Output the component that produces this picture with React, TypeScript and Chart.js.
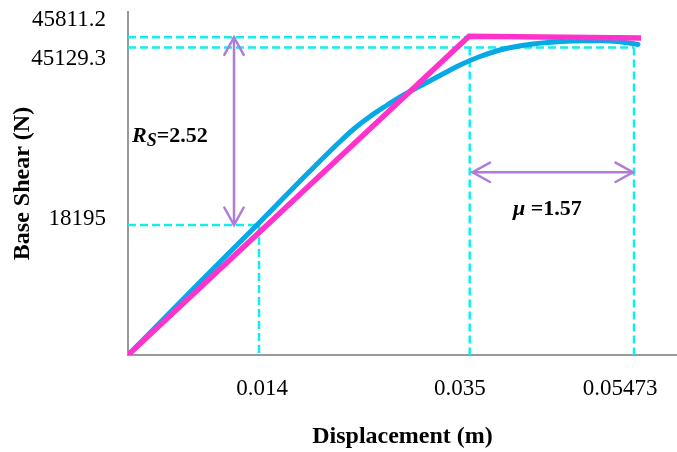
import React, { useEffect, useRef } from "react";
import { Chart, registerables } from "chart.js";

Chart.register(...registerables);

const FONT = "'Liberation Serif', 'Times New Roman', serif";

// Pushover (capacity) curve: displacement (m) vs base shear (N)
const pushoverDisp = [0, 0.00761, 0.01363, 0.01923, 0.0224, 0.02398, 0.02557, 0.02715, 0.02874, 0.03085, 0.03296, 0.03508, 0.03719, 0.0393, 0.04279, 0.04638, 0.04987, 0.05198, 0.05388];
const pushoverShear = [0, 10216, 18192, 25749, 29877, 31766, 33376, 34775, 36105, 37644, 39113, 40583, 41772, 42682, 43521, 43899, 43969, 43829, 43452];

// Idealised bilinear curve
const bilinearDisp = [0, 0.03603, 0.0542];
const bilinearShear = [0, 44600, 44360];

// Tick labels (placed where the reference prints them)
const xTickPos = [0.01416, 0.03507, 0.05198];
const xTickLabels = ["0.014", "0.035", "0.05473"];
const yTickPos = [46880, 41420, 19030];
const yTickLabels = ["45811.2", "45129.3", "18195"];

// Dashed guide lines
const hGuideY = [18192, 44450, 43032];
const hGuideEnd = [0.01384, 0.0361, 0.05346];
const vGuideX = [0.01384, 0.0361, 0.05346];
const vGuideTop = [18192, 43032, 43032];

// Arrows and their labels
const rsArrowX = 0.0112;
const rsArrowRange = [44450, 18192];
const muArrowY = 25570;
const muArrowRange = [0.0364, 0.05335];
const rsText = ["R", "S", "=2.52"];
const muText = ["\u03bc", " =1.57"];
const rsTextAt = { x: 0.00042, y: 29850 };
const muTextAt = { x: 0.04067, y: 19590 };

const BLUE = "#06a9e6";
const MAGENTA = "#ff33cc";
const CYAN = "#12eeee";
const PURPLE = "#b07cd8";
const AXIS = "#999999";

const annotate = {
  id: "annotate",
  afterDatasetsDraw(chart: any) {
    const { ctx, scales } = chart;
    const xs = scales.x;
    const ys = scales.y;
    ctx.save();
    ctx.strokeStyle = PURPLE;
    ctx.lineWidth = 2.5;
    ctx.lineCap = "round";
    const L = 20;
    const th = (29 * Math.PI) / 180;
    const head = (tx: number, ty: number, a: number) => {
      ctx.beginPath();
      ctx.moveTo(tx - L * Math.cos(a - th), ty - L * Math.sin(a - th));
      ctx.lineTo(tx, ty);
      ctx.lineTo(tx - L * Math.cos(a + th), ty - L * Math.sin(a + th));
      ctx.stroke();
    };
    const dbl = (x1: number, y1: number, x2: number, y2: number) => {
      ctx.beginPath();
      ctx.moveTo(x1, y1);
      ctx.lineTo(x2, y2);
      ctx.stroke();
      const a = Math.atan2(y2 - y1, x2 - x1);
      head(x2, y2, a);
      head(x1, y1, a + Math.PI);
    };
    const ax = xs.getPixelForValue(rsArrowX);
    dbl(ax, ys.getPixelForValue(rsArrowRange[0]), ax, ys.getPixelForValue(rsArrowRange[1]));
    const my = ys.getPixelForValue(muArrowY);
    dbl(xs.getPixelForValue(muArrowRange[0]), my, xs.getPixelForValue(muArrowRange[1]), my);

    ctx.fillStyle = "#000";
    ctx.textBaseline = "alphabetic";
    ctx.textAlign = "left";
    let tx = xs.getPixelForValue(rsTextAt.x);
    const ty = ys.getPixelForValue(rsTextAt.y);
    ctx.font = `italic bold 22px ${FONT}`;
    ctx.fillText(rsText[0], tx, ty);
    tx += ctx.measureText(rsText[0]).width;
    ctx.font = `italic bold 18px ${FONT}`;
    ctx.fillText(rsText[1], tx, ty + 4.5);
    tx += ctx.measureText(rsText[1]).width;
    ctx.font = `bold 22px ${FONT}`;
    ctx.fillText(rsText[2], tx, ty);

    let mx = xs.getPixelForValue(muTextAt.x);
    const myT = ys.getPixelForValue(muTextAt.y);
    ctx.font = `italic bold 22px ${FONT}`;
    ctx.fillText(muText[0], mx, myT);
    mx += ctx.measureText(muText[0]).width;
    ctx.font = `bold 22px ${FONT}`;
    ctx.fillText(muText[1], mx, myT);
    ctx.restore();
  },
};

function buildConfig(): any {
  const guideSets: any[] = [];
  hGuideY.forEach((gy, i) => {
    guideSets.push({
      data: [{ x: 0, y: gy }, { x: hGuideEnd[i], y: gy }],
      borderColor: CYAN,
      borderWidth: 2.5,
      borderDash: [8, 4],
      pointRadius: 0,
      order: 3,
    });
  });
  vGuideX.forEach((gx, i) => {
    guideSets.push({
      data: [{ x: gx, y: vGuideTop[i] }, { x: gx, y: 0 }],
      borderColor: CYAN,
      borderWidth: 2.5,
      borderDash: [8, 4],
      pointRadius: 0,
      order: 3,
    });
  });
  return {
    type: "line",
    data: {
      datasets: [
        {
          data: bilinearDisp.map((x, i) => ({ x, y: bilinearShear[i] })),
          borderColor: MAGENTA,
          borderWidth: 5.5,
          pointRadius: 0,
          borderCapStyle: "butt",
          order: 0,
        },
        {
          data: pushoverDisp.map((x, i) => ({ x, y: pushoverShear[i] })),
          borderColor: BLUE,
          borderWidth: 5,
          pointRadius: 0,
          cubicInterpolationMode: "monotone",
          borderCapStyle: "round",
          order: 1,
        },
        ...guideSets,
      ],
    },
    options: {
      responsive: false,
      devicePixelRatio: 1,
      animation: false,
      events: [],
      layout: { padding: { top: 12, left: 0, right: 0, bottom: 0 } },
      plugins: { legend: { display: false }, tooltip: { enabled: false } },
      scales: {
        x: {
          type: "linear",
          min: 0,
          max: 0.058,
          grid: { display: false, drawTicks: false },
          border: { display: true, color: AXIS, width: 2 },
          afterBuildTicks: (s: any) => {
            s.ticks = xTickPos.map((v) => ({ value: v }));
          },
          afterFit: (s: any) => {
            s.height = 97;
            s.paddingLeft = 0;
            s.paddingRight = 0;
          },
          ticks: {
            autoSkip: false,
            maxRotation: 0,
            padding: 20,
            color: "#000",
            font: { family: FONT, size: 23 },
            callback: (_v: any, i: number) => xTickLabels[i],
          },
          title: {
            display: true,
            text: "Displacement (m)",
            color: "#000",
            font: { family: FONT, size: 24, weight: "bold" },
            padding: { top: 0, bottom: 1 },
          },
        },
        y: {
          type: "linear",
          min: 0,
          max: 48000,
          grid: { display: false, drawTicks: false },
          border: { display: true, color: AXIS, width: 2 },
          afterBuildTicks: (s: any) => {
            s.ticks = yTickPos.map((v) => ({ value: v }));
          },
          afterFit: (s: any) => {
            s.width = 128;
            s.paddingTop = 0;
            s.paddingBottom = 0;
          },
          ticks: {
            autoSkip: false,
            padding: 22,
            color: "#000",
            font: { family: FONT, size: 23 },
            callback: (_v: any, i: number) => yTickLabels[i],
          },
          title: {
            display: true,
            text: "Base Shear (N)",
            color: "#000",
            font: { family: FONT, size: 24, weight: "bold" },
            padding: { top: 8, bottom: 0 },
          },
        },
      },
    },
    plugins: [annotate],
  };
}

export default function App() {
  const ref = useRef<HTMLCanvasElement>(null);
  useEffect(() => {
    if (!ref.current) return;
    const chart = new Chart(ref.current, buildConfig());
    return () => chart.destroy();
  }, []);
  return (
    <div style={{ position: "fixed", left: 0, top: 0, width: 677, height: 452, background: "#fff" }}>
      <canvas ref={ref} width={677} height={452} style={{ display: "block", width: 677, height: 452 }} />
    </div>
  );
}
